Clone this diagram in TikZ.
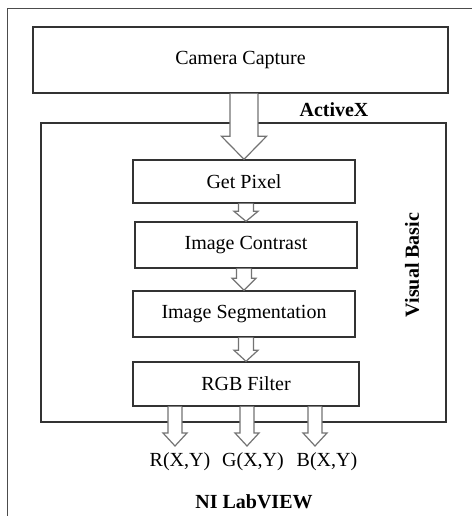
\documentclass[tikz,border=0pt]{standalone}
\usepackage{fontspec}
\setmainfont{Liberation Serif}
\usepackage{tikz}
\usetikzlibrary{calc}

\tikzset{
    stagebox/.style={draw=black!80, line width=0.7pt, rectangle, inner sep=0pt, minimum width=111pt, minimum height=22pt},
    hollowarrow/.style={draw=black!55, fill=white, line width=0.6pt, line join=miter},
    frameline/.style={draw=black!70, line width=0.5pt},
}
% hollow block arrow: from #1 (top) to #2 (tip), shaft half width #3, head half width #4, head length #5
\newcommand{\blockarrow}[5]{%
    \filldraw[hollowarrow] let \p1=(#1), \p2=(#2) in
        (\x2-#3,\y1) -- (\x2-#3,\y2+#5) -- (\x2-#4,\y2+#5) -- (\x2,\y2)
        -- (\x2+#4,\y2+#5) -- (\x2+#3,\y2+#5) -- (\x2+#3,\y1);%
}

\begin{document}
\begin{tikzpicture}[x=0.5pt, y=-0.5pt]
    \useasboundingbox (0,0) rectangle (472,516);

    % NI LabVIEW frame
    \coordinate (framecorner) at (8,8);
    \draw[frameline] (472,8) -- (framecorner) -- (8,516);

    % Boxes
    \node[stagebox, minimum width=207.5pt, minimum height=33pt] (camera) at (240.5,60) {Camera Capture};
    \node[stagebox, minimum width=202.5pt, minimum height=149.5pt] (vbasic) at (243.5,272.5) {};
    \node[stagebox, minimum height=21.5pt] (getpixel) at (244,181.5) {Get Pixel};
    \node[stagebox, minimum height=23pt] (contrast) at (246,245) {Image Contrast};
    \node[stagebox, minimum height=23pt] (segment) at (244,314) {Image Segmentation};
    \node[stagebox, minimum width=113pt] (rgbfilter) at (246,384) {RGB Filter};

    % Labels
    \node[font=\bfseries] (activex) at (334,110) {ActiveX};
    \node[font=\bfseries, rotate=90] (vblabel) at (412,265) {Visual Basic};
    \node (rout) at (180,462) {R(X,Y)};
    \node (gout) at (253,462) {G(X,Y)};
    \node (bout) at (327,462) {B(X,Y)};
    \node[font=\bfseries] (labview) at (254,502) {NI LabVIEW};

    % Arrow tips of the outputs
    \coordinate (rtip) at (175,446);
    \coordinate (gtip) at (247,446);
    \coordinate (btip) at (315,446);

    % Connections
    \blockarrow{camera.south}{getpixel.north}{7pt}{11.25pt}{11.5pt}
    \blockarrow{getpixel.south}{contrast.north}{3.75pt}{6pt}{5pt}
    \blockarrow{contrast.south}{segment.north}{3.75pt}{6pt}{6pt}
    \blockarrow{segment.south}{rgbfilter.north}{3.75pt}{6pt}{5.5pt}
    \blockarrow{rgbfilter.south}{rtip}{3.5pt}{6pt}{6.5pt}
    \blockarrow{rgbfilter.south}{gtip}{3.5pt}{6pt}{6.5pt}
    \blockarrow{rgbfilter.south}{btip}{3.5pt}{6pt}{6.5pt}
\end{tikzpicture}
\end{document}
